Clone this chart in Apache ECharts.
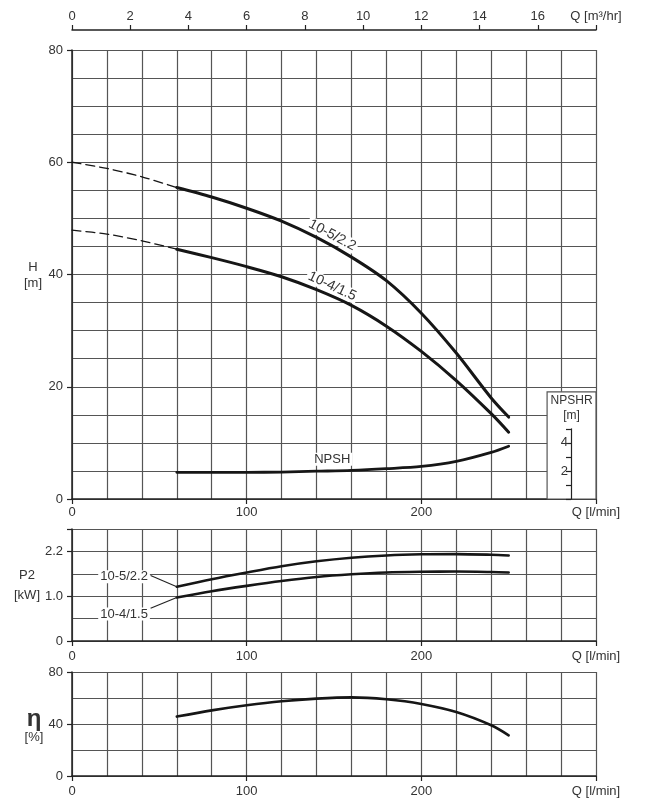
<!DOCTYPE html>
<html><head><meta charset="utf-8">
<script src="https://cdn.jsdelivr.net/npm/echarts@6/dist/echarts.min.js"></script>
<style>html,body{margin:0;padding:0;background:#fff}#c{width:646px;height:812px}</style>
</head><body><div id="c"></div>
<script>
// ---- data (Q in l/min) ----
const qSolid = [60, 80, 100, 120, 140, 160, 180, 200, 220, 240, 250];
const qDash = [0, 20, 40, 60];
const head105Dash = [60, 58.9, 57.4, 55.5];
const head105 = [55.5, 53.8, 51.8, 49.5, 46.6, 43.1, 38.9, 33.1, 26.0, 18.0, 14.6];
const head104Dash = [47.9, 47.2, 46.0, 44.5];
const head104 = [44.5, 43.0, 41.4, 39.6, 37.3, 34.5, 30.8, 26.3, 21.1, 15.2, 11.9];
const npshr = [1.9, 1.9, 1.9, 1.92, 1.98, 2.04, 2.16, 2.32, 2.68, 3.32, 3.76];
const p2_105 = [1.21, 1.38, 1.53, 1.67, 1.78, 1.86, 1.91, 1.935, 1.94, 1.925, 1.91];
const p2_104 = [0.97, 1.11, 1.23, 1.34, 1.43, 1.49, 1.53, 1.545, 1.55, 1.54, 1.53];
const eta = [45.7, 50.5, 54.4, 57.5, 59.5, 60.5, 59, 55.4, 49.2, 39, 31.3];

// ---- tick labels ----
const qTickValues = [0, 100, 200, 300];
const qTickLabels = ['0', '100', '200', 'Q [l/min]'];
const m3hTickValues = [0, 2, 4, 6, 8, 10, 12, 14, 16, 18];
const m3hTickLabels = ['0', '2', '4', '6', '8', '10', '12', '14', '16', 'Q [m³/hr]'];
const hTickValues = [0, 20, 40, 60, 80];
const hTickLabels = ['0', '20', '40', '60', '80'];
const p2TickValues = [0, 1, 2];
const p2TickLabels = ['0', '1.0', '2.2'];
const etaTickValues = [0, 40, 80];
const etaTickLabels = ['0', '40', '80'];
const npshrTickValues = [2, 4];
const npshrTickLabels = ['2', '4'];
const curveNames = ['10-5/2.2', '10-4/1.5'];

const zip = (xs, ys) => xs.map((x, i) => [x, ys[i]]);
const lookup = (vals, labels) => v => { const i = vals.findIndex(t => Math.abs(t - v) < 1e-9); return i < 0 ? '' : labels[i]; };

const FONT = '"Liberation Sans", Arial, sans-serif';
const TXT = '#333';
const GRIDC = '#555';
const CURVE = '#161616';

const chart = echarts.init(document.getElementById('c'), null, {renderer: 'canvas'});

const mainTop = 50, mainH = 449;
const grids = [
  {left: 72, right: 50, top: mainTop, height: mainH},
  {left: 72, right: 50, top: 529, height: 112},
  {left: 72, right: 50, top: 672, height: 104},
  {left: 571, width: 25, top: mainTop + mainH * (1 - 5 / 32), height: mainH * 5 / 32}
];

function splitX(g) {
  return {gridIndex: g, type: 'value', min: 0, max: 300, interval: 20,
    axisLine: {show: false, onZero: false}, axisTick: {show: false}, axisLabel: {show: false},
    splitLine: {show: true, lineStyle: {color: GRIDC, width: 1.2}}};
}
function labelX(g, margin) {
  return {gridIndex: g, type: 'value', position: 'bottom', min: 0, max: 300, interval: 100,
    axisLine: {show: true, onZero: false, lineStyle: {color: '#222', width: 1.5}},
    axisTick: {show: true, length: 5, lineStyle: {color: '#222', width: 1.2}},
    axisLabel: {show: true, margin: margin, color: TXT, fontSize: 13, fontFamily: FONT,
      formatter: lookup(qTickValues, qTickLabels)},
    splitLine: {show: false}};
}
function splitY(g, max, interval) {
  return {gridIndex: g, type: 'value', min: 0, max: max, interval: interval,
    axisLine: {show: false, onZero: false}, axisTick: {show: false}, axisLabel: {show: false},
    splitLine: {show: true, lineStyle: {color: GRIDC, width: 1.2}}};
}
function labelY(g, max, interval, vals, labels) {
  return {gridIndex: g, type: 'value', position: 'left', min: 0, max: max, interval: interval,
    axisLine: {show: true, onZero: false, lineStyle: {color: '#222', width: 1.5}},
    axisTick: {show: true, length: 5, lineStyle: {color: '#222', width: 1.2}},
    axisLabel: {show: true, margin: 9, color: TXT, fontSize: 13, fontFamily: FONT,
      formatter: lookup(vals, labels)},
    splitLine: {show: false}};
}

const xAxis = [
  splitX(0),                // 0
  labelX(0, 7),             // 1
  {gridIndex: 0, type: 'value', position: 'top', offset: 20, min: 0, max: 18, interval: 2, // 2
    axisLine: {show: true, onZero: false, lineStyle: {color: '#222', width: 1.5}},
    axisTick: {show: true, length: 5, lineStyle: {color: '#222', width: 1.2}},
    axisLabel: {show: true, margin: 7, color: TXT, fontSize: 13, fontFamily: FONT,
      formatter: lookup(m3hTickValues, m3hTickLabels)},
    splitLine: {show: false}},
  splitX(1),                // 3
  labelX(1, 9),             // 4
  splitX(2),                // 5
  labelX(2, 9),             // 6
  {gridIndex: 3, type: 'value', min: 0, max: 1, show: false} // 7
];

const yAxis = [
  splitY(0, 80, 5),                                     // 0
  labelY(0, 80, 20, hTickValues, hTickLabels),          // 1
  {gridIndex: 0, type: 'value', min: 0, max: 32, show: false}, // 2 NPSHR scale (80 m / 2.5)
  splitY(1, 2.5, 0.5),                                  // 3
  labelY(1, 2.5, 1, p2TickValues, p2TickLabels),        // 4
  splitY(2, 80, 20),                                    // 5
  labelY(2, 80, 40, etaTickValues, etaTickLabels),      // 6
  {gridIndex: 3, type: 'value', position: 'left', min: 0, max: 5, interval: 1, z: 10, // 7 inset NPSHR
    axisLine: {show: true, onZero: false, lineStyle: {color: '#222', width: 1.2}},
    axisTick: {show: true, length: 5, lineStyle: {color: '#222', width: 1.2}},
    axisLabel: {show: true, margin: 3, color: TXT, fontSize: 13, fontFamily: FONT,
      formatter: lookup(npshrTickValues, npshrTickLabels)},
    splitLine: {show: false}}
];

function line(name, data, xi, yi, width, dashed) {
  return {name: name, type: 'line', xAxisIndex: xi, yAxisIndex: yi, data: data,
    smooth: 0.3, symbol: 'none', silent: true, z: 3,
    lineStyle: {color: CURVE, width: width, type: dashed ? [9, 5] : 'solid', cap: 'round', join: 'round'}};
}

const series = [
  line(curveNames[0] + ' dashed', zip(qDash, head105Dash), 0, 0, 1.3, true),
  line(curveNames[0], zip(qSolid, head105), 0, 0, 3, false),
  line(curveNames[1] + ' dashed', zip(qDash, head104Dash), 0, 0, 1.3, true),
  line(curveNames[1], zip(qSolid, head104), 0, 0, 3, false),
  line('NPSH', zip(qSolid, npshr), 0, 2, 2.8, false),
  line('P2 ' + curveNames[0], zip(qSolid, p2_105), 3, 3, 2.6, false),
  line('P2 ' + curveNames[1], zip(qSolid, p2_104), 3, 3, 2.6, false),
  line('eta', zip(qSolid, eta), 5, 5, 2.6, false)
];

chart.setOption({
  animation: false,
  backgroundColor: '#fff',
  grid: grids,
  xAxis: xAxis,
  yAxis: yAxis,
  series: series
});

// ---- annotations positioned through the axes ----
const pxMain = p => chart.convertToPixel({xAxisIndex: 0, yAxisIndex: 0}, p);
const pxP2 = p => chart.convertToPixel({xAxisIndex: 3, yAxisIndex: 3}, p);

function label(pos, text, rotDeg, size) {
  return {type: 'text', x: pos[0], y: pos[1], rotation: -rotDeg * Math.PI / 180, z: 50,
    style: {text: text, font: (size || 13) + 'px ' + FONT, fill: TXT, align: 'center', verticalAlign: 'middle',
      backgroundColor: '#fff', padding: [0, 2]}};
}
function plainText(x, y, text, font) {
  return {type: 'text', x: x, y: y, z: 50,
    style: {text: text, font: font, fill: TXT, align: 'center', verticalAlign: 'middle'}};
}

const boxTL = pxMain([272, 19.1]);
const boxBR = pxMain([300, 0]);
const boxCx = pxMain([286, 0])[0];
const p2l1 = pxP2([29.8, 1.435]);
const p2l2 = pxP2([29.8, 0.6]);
const lead1a = pxP2([45, 1.46]), lead1b = pxP2([qSolid[0], p2_105[0]]);
const lead2a = pxP2([45, 0.73]), lead2b = pxP2([qSolid[0], p2_104[0]]);

const graphic = [
  {type: 'rect', z: 5, shape: {x: boxTL[0], y: boxTL[1], width: boxBR[0] - boxTL[0], height: boxBR[1] - boxTL[1]},
    style: {fill: '#fff', stroke: GRIDC, lineWidth: 1.2}},
  plainText(boxCx, pxMain([0, 17.6])[1], 'NPSHR', '12px ' + FONT),
  plainText(boxCx, pxMain([0, 14.9])[1], '[m]', '12px ' + FONT),
  label(pxMain([149, 47.0]), curveNames[0], 28, 14),
  label(pxMain([149, 37.9]), curveNames[1], 25, 14),
  label(pxMain([149, 7.1]), 'NPSH', 0, 13),
  {type: 'line', z: 40, shape: {x1: lead1a[0], y1: lead1a[1], x2: lead1b[0], y2: lead1b[1]}, style: {stroke: '#222', lineWidth: 1.1}},
  {type: 'line', z: 40, shape: {x1: lead2a[0], y1: lead2a[1], x2: lead2b[0], y2: lead2b[1]}, style: {stroke: '#222', lineWidth: 1.1}},
  label(p2l1, curveNames[0], 0, 13),
  label(p2l2, curveNames[1], 0, 13),
  plainText(33, 267, 'H', '13px ' + FONT),
  plainText(33, 283, '[m]', '13px ' + FONT),
  plainText(27, 575, 'P2', '13px ' + FONT),
  plainText(27, 595, '[kW]', '13px ' + FONT),
  plainText(34, 719, 'η', 'bold 24px ' + FONT),
  plainText(34, 737, '[%]', '13px ' + FONT)
];
chart.setOption({graphic: graphic});
</script>
</body></html>
